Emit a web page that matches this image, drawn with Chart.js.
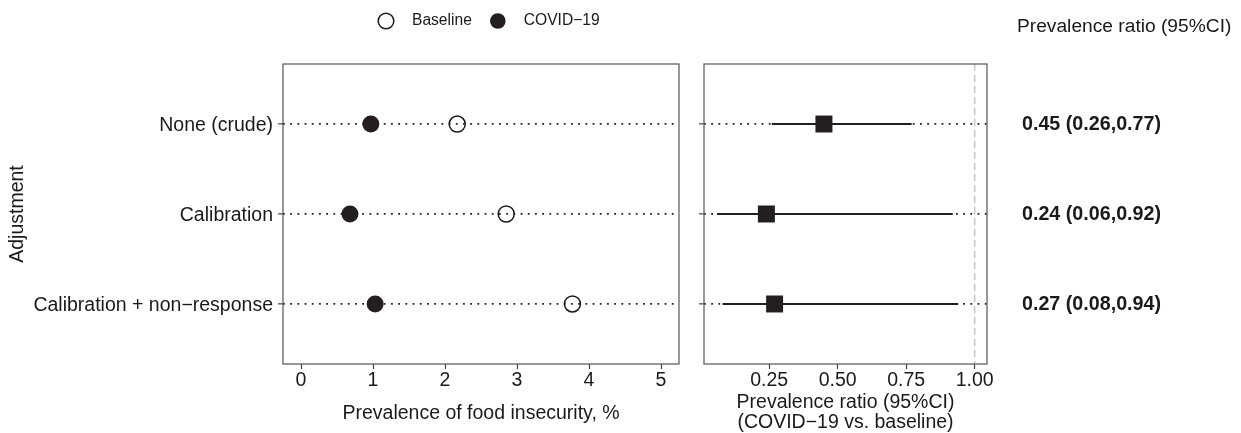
<!DOCTYPE html>
<html>
<head>
<meta charset="utf-8">
<script src="https://cdn.jsdelivr.net/npm/chart.js@4.4.1/dist/chart.umd.min.js"></script>
<style>
  body { margin: 0; background: #fff; }
  .wrap { position: relative; width: 1241px; height: 433px; }
  #leftBox { position: absolute; left: 0; top: 0; width: 690px; height: 433px; }
  #rightBox { position: absolute; left: 690px; top: 0; width: 551px; height: 433px; }
</style>
</head>
<body>
<div class="wrap">
  <div id="leftBox"><canvas id="left"></canvas></div>
  <div id="rightBox"><canvas id="right"></canvas></div>
</div>
<script>
// data
const adjustments = ['None (crude)', 'Calibration', 'Calibration + non\u2212response'];
const baseline = [2.17, 2.85, 3.77];
const covid = [0.97, 0.68, 1.03];
const ratio = [0.45, 0.24, 0.27];
const ciLow = [0.26, 0.06, 0.08];
const ciHigh = [0.77, 0.92, 0.94];
const leftTicks = [0, 1, 2, 3, 4, 5];
const rightTicks = [0.25, 0.50, 0.75, 1.00];
const refLine = 1;

const FONT = "'Liberation Sans', Arial, sans-serif";
const TEXT = '#1a1a1a';
const INK = '#231f20';
const yMin = -0.667, yMax = 2.667;

// box round each panel
const panelBorder = {
  id: 'panelBorder',
  afterDraw(chart) {
    const { ctx, chartArea: a } = chart;
    ctx.save();
    ctx.strokeStyle = '#555';
    ctx.lineWidth = 1.2;
    ctx.strokeRect(a.left, a.top, a.right - a.left, a.bottom - a.top);
    ctx.restore();
  }
};

// legend above the left panel
const topLegend = {
  id: 'topLegend',
  afterDraw(chart) {
    const ctx = chart.ctx;
    ctx.save();
    ctx.font = '15.6px ' + FONT;
    ctx.textBaseline = 'middle';
    const y = 21;
    let cx = 386;
    chart.data.datasets.forEach(ds => {
      ctx.beginPath();
      ctx.arc(cx, y, 7.8, 0, Math.PI * 2);
      ctx.fillStyle = ds.pointBackgroundColor;
      ctx.fill();
      if (ds.pointBorderWidth) {
        ctx.lineWidth = 1.5;
        ctx.strokeStyle = ds.pointBorderColor;
        ctx.stroke();
      }
      ctx.fillStyle = TEXT;
      ctx.fillText(ds.label, cx + 26, y);
      cx += 26 + ctx.measureText(ds.label).width + 26;
    });
    ctx.restore();
  }
};

// ratio column on the right
const ratioLabels = {
  id: 'ratioLabels',
  afterDraw(chart) {
    const { ctx, chartArea: a } = chart;
    const ys = chart.scales.y;
    ctx.save();
    ctx.fillStyle = TEXT;
    ctx.textBaseline = 'middle';
    ctx.font = '19.2px ' + FONT;
    ctx.fillText('Prevalence ratio (95%CI)', a.right + 30, 27);
    ctx.font = 'bold 19.7px ' + FONT;
    ratio.forEach((r, i) => {
      const txt = r.toFixed(2) + ' (' + ciLow[i].toFixed(2) + ',' + ciHigh[i].toFixed(2) + ')';
      ctx.fillText(txt, a.right + 35, ys.getPixelForValue(i) + 1);
    });
    ctx.restore();
  }
};

const tickFont = { family: FONT, size: 19.5 };

function rowAxis(withLabels) {
  return {
    type: 'linear', reverse: true, min: yMin, max: yMax,
    afterBuildTicks: s => { s.ticks = adjustments.map((_, i) => ({ value: i })); },
    afterFit: s => { s.width = withLabels ? 283 : 14; },
    ticks: {
      display: withLabels, autoSkip: false, padding: 5, labelOffset: 2, color: TEXT, font: tickFont,
      callback: v => adjustments[v]
    },
    grid: { color: '#222', lineWidth: 1.7, drawTicks: true, tickLength: 5, tickColor: '#444', tickWidth: 1.2 },
    border: { display: false, dash: [1.8, 5.4] },
    title: {
      display: withLabels, text: 'Adjustment', color: TEXT,
      font: { family: FONT, size: 19.5, lineHeight: 1.2 }, padding: { top: 6, bottom: 0 }
    }
  };
}

new Chart(document.getElementById('left'), {
  type: 'scatter',
  data: {
    datasets: [
      {
        label: 'Baseline',
        data: baseline.map((v, i) => ({ x: v, y: i })),
        pointRadius: 8, pointBackgroundColor: 'rgba(0,0,0,0)',
        pointBorderColor: TEXT, pointBorderWidth: 1.5
      },
      {
        label: 'COVID\u221219',
        data: covid.map((v, i) => ({ x: v, y: i })),
        pointRadius: 8.5, pointBackgroundColor: INK,
        pointBorderColor: INK, pointBorderWidth: 0
      }
    ]
  },
  options: {
    animation: false, responsive: true, maintainAspectRatio: false,
    layout: { padding: { top: 64, right: 11, bottom: 0, left: 0 } },
    plugins: { legend: { display: false }, tooltip: { enabled: false } },
    scales: {
      x: {
        type: 'linear', min: -0.25, max: 5.25,
        afterBuildTicks: s => { s.ticks = leftTicks.map(v => ({ value: v })); },
        afterFit: s => { s.height = 69; },
        ticks: { autoSkip: false, maxRotation: 0, padding: 0, color: TEXT, font: tickFont, callback: v => String(v) },
        grid: { drawOnChartArea: false, drawTicks: true, tickLength: 5, tickColor: '#444', tickWidth: 1.2 },
        border: { display: false },
        title: {
          display: true, text: 'Prevalence of food insecurity, %', color: TEXT,
          font: { family: FONT, size: 19.5, lineHeight: 1.2 }, padding: { top: 0, bottom: 8 }
        }
      },
      y: rowAxis(true)
    }
  },
  plugins: [panelBorder, topLegend]
});

new Chart(document.getElementById('right'), {
  type: 'scatter',
  data: {
    datasets: [
      {
        label: 'ratio',
        data: ratio.map((v, i) => ({ x: v, y: i })),
        pointStyle: 'rect', pointRadius: 12, pointBackgroundColor: INK,
        pointBorderWidth: 0, order: 0
      },
      ...ciLow.map((lo, i) => ({
        label: 'ci' + i,
        data: [{ x: lo, y: i }, { x: ciHigh[i], y: i }],
        showLine: true, borderColor: INK, borderWidth: 2, pointRadius: 0, order: 1
      })),
      {
        label: 'ref',
        data: [{ x: refLine, y: yMin }, { x: refLine, y: yMax }],
        showLine: true, borderColor: '#c8c8c8', borderWidth: 1.6, borderDash: [7, 4],
        pointRadius: 0, order: 2
      }
    ]
  },
  options: {
    animation: false, responsive: true, maintainAspectRatio: false,
    layout: { padding: { top: 64, right: 254, bottom: 0, left: 0 } },
    plugins: { legend: { display: false }, tooltip: { enabled: false } },
    scales: {
      x: {
        type: 'linear', min: 0.0124, max: 1.045,
        afterBuildTicks: s => { s.ticks = rightTicks.map(v => ({ value: v })); },
        afterFit: s => { s.height = 69; },
        ticks: { autoSkip: false, maxRotation: 0, padding: 0, color: TEXT, font: tickFont, callback: v => v.toFixed(2) },
        grid: { drawOnChartArea: false, drawTicks: true, tickLength: 5, tickColor: '#444', tickWidth: 1.2 },
        border: { display: false },
        title: {
          display: true, text: ['Prevalence ratio (95%CI)', '(COVID\u221219 vs. baseline)'], color: TEXT,
          font: { family: FONT, size: 19.5, lineHeight: 1.0 }, padding: { top: 0, bottom: 1 }
        }
      },
      y: rowAxis(false)
    }
  },
  plugins: [panelBorder, ratioLabels]
});
</script>
</body>
</html>
